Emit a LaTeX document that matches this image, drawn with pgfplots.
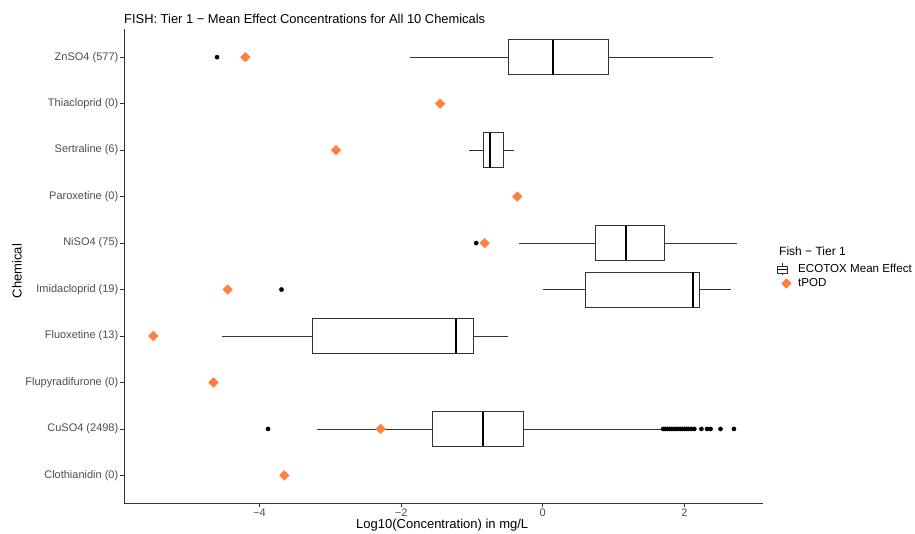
\documentclass[border=0pt]{standalone}
\usepackage{fontspec}
\setmainfont{Liberation Sans}
\usepackage{pgfplots}
\pgfplotsset{compat=1.18}
\usepgfplotslibrary{statistics}
\definecolor{tpod}{HTML}{FF7F3F}
\definecolor{boxline}{HTML}{333333}
\definecolor{ticklab}{HTML}{4D4D4D}
\begin{document}
\begin{tikzpicture}
\begin{axis}[
  scale only axis, width=639bp, height=474bp,
  xmin=-5.914, xmax=3.11, ymin=0.4, ymax=10.6,
  axis lines*=left,
  axis line style={draw=boxline, line width=0.8bp},
  tick align=outside, major tick length=4bp,
  tick style={draw=boxline, line width=0.8bp},
  xtick={-4,-2,0,2}, xticklabels={−4,−2,0,2},
  ytick={1,2,3,4,5,6,7,8,9,10},
  yticklabels={Clothianidin (0), CuSO4 (2498), Flupyradifurone (0), Fluoxetine (13), Imidacloprid (19), NiSO4 (75), Paroxetine (0), Sertraline (6), Thiacloprid (0), ZnSO4 (577)},
  ticklabel style={font=\fontsize{11bp}{13bp}\selectfont, text=ticklab},
  yticklabel style={inner sep=1.5bp},
  xticklabel style={inner sep=1.5bp},
  xlabel={Log10(Concentration) in mg/L},
  ylabel={Chemical},
  label style={font=\fontsize{13bp}{15bp}\selectfont},
  xlabel style={at={(axis description cs:0.498,-0.046)}, anchor=center},
  ylabel style={at={(axis description cs:-0.1675,0.49)}, anchor=center, rotate=0},
  title={FISH: Tier 1 − Mean Effect Concentrations for All 10 Chemicals},
  title style={at={(axis description cs:0,1)}, anchor=base west, yshift=0bp, inner sep=0pt, font=\fontsize{12.9bp}{15bp}\selectfont},
  boxplot/draw direction=x,
  boxplot/box extend=0.75,
  boxplot/whisker extend=0,
  boxplot/every median/.style={draw=black, line width=2.2bp},
  legend style={at={(axis description cs:1.02,0.539)}, anchor=north west, draw=none, fill=none,
    font=\fontsize{11.6bp}{13bp}\selectfont, row sep=0.3bp, column sep=5bp, inner sep=0pt, cells={anchor=west}},
]
% ZnSO4 (10)
\addplot[boxplot prepared={draw position=10, lower whisker=-1.87, lower quartile=-0.49, median=0.14, upper quartile=0.93, upper whisker=2.40}, draw=boxline, line width=0.8bp, fill=white, forget plot] coordinates {};
% Sertraline (8)
\addplot[boxplot prepared={draw position=8, lower whisker=-1.04, lower quartile=-0.84, median=-0.75, upper quartile=-0.55, upper whisker=-0.41}, draw=boxline, line width=0.8bp, fill=white, forget plot] coordinates {};
% NiSO4 (6)
\addplot[boxplot prepared={draw position=6, lower whisker=-0.33, lower quartile=0.74, median=1.17, upper quartile=1.72, upper whisker=2.74}, draw=boxline, line width=0.8bp, fill=white, forget plot] coordinates {};
% Imidacloprid (5)
\addplot[boxplot prepared={draw position=5, lower whisker=0.01, lower quartile=0.60, median=2.12, upper quartile=2.21, upper whisker=2.66}, draw=boxline, line width=0.8bp, fill=white, forget plot] coordinates {};
% Fluoxetine (4)
\addplot[boxplot prepared={draw position=4, lower whisker=-4.53, lower quartile=-3.25, median=-1.23, upper quartile=-0.98, upper whisker=-0.49}, draw=boxline, line width=0.8bp, fill=white, forget plot] coordinates {};
% CuSO4 (2)
\addplot[boxplot prepared={draw position=2, lower whisker=-3.19, lower quartile=-1.56, median=-0.84, upper quartile=-0.28, upper whisker=1.68}, draw=boxline, line width=0.8bp, fill=white, forget plot] coordinates {};
% outliers
\addplot[only marks, mark=*, mark size=2.1bp, black, forget plot] coordinates {
(-4.60,10) (-0.94,6) (-3.69,5) (-3.88,2)
(1.70,2) (1.73,2) (1.76,2) (1.79,2) (1.82,2) (1.85,2) (1.88,2) (1.91,2) (1.94,2) (1.97,2) (2.00,2) (2.03,2) (2.06,2) (2.10,2) (2.14,2)
(2.24,2) (2.32,2) (2.37,2) (2.51,2) (2.70,2)
};
% tPOD
\addplot[only marks, mark=square*, mark size=3.4bp, color=tpod, mark options={rotate=45, fill=tpod, draw=tpod}, forget plot] coordinates {
(-4.20,10) (-1.45,9) (-2.92,8) (-0.36,7) (-0.82,6) (-4.45,5) (-5.50,4) (-4.65,3) (-2.29,2) (-3.65,1)
};
\addlegendimage{empty legend}
\addlegendentry{\hspace{-19bp}\raisebox{3.5bp}[\height][\depth]{\fontsize{12bp}{14bp}\selectfont Fish − Tier 1}}
\addlegendimage{legend image code/.code={
  \draw[boxline, line width=0.7bp, fill=white] (-1bp,-3.5bp) rectangle (9bp,3.5bp);
  \draw[boxline, line width=0.7bp] (4bp,-6bp) -- (4bp,-3.5bp) (4bp,3.5bp) -- (4bp,6bp);
  \draw[black, line width=1.8bp] (-1bp,0bp) -- (9bp,0bp);
}}
\addlegendentry{ECOTOX Mean Effect}
\addlegendimage{only marks, mark=square*, mark size=3.4bp, color=tpod, mark options={rotate=45, fill=tpod, draw=tpod}}
\addlegendentry{tPOD}
\end{axis}
\pgfresetboundingbox
\path (-124bp,-30.7bp) rectangle (791bp,503.3bp);
\end{tikzpicture}
\end{document}
